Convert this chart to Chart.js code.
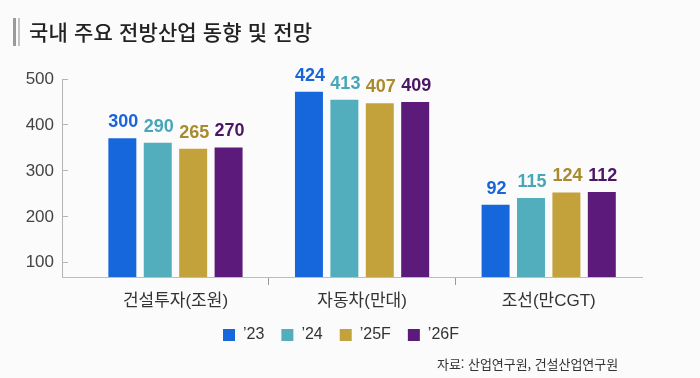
<!DOCTYPE html>
<html lang="ko">
<head>
<meta charset="utf-8">
<script src="https://cdn.jsdelivr.net/npm/chart.js@4"></script>
<style>
  html, body { margin: 0; padding: 0; background: #fbfbfb; }
  #wrap { position: relative; width: 700px; height: 378px; overflow: hidden; }
  #title {
    position: absolute; left: 29px; top: 16px;
    font-family: 'Noto Sans CJK KR', sans-serif; font-weight: 500;
    font-size: 21px; color: #222; letter-spacing: 0.15px; white-space: nowrap;
  }
  #bar1 { position: absolute; left: 13px; top: 18px; width: 3px; height: 28px; background: #9a9a9a; }
  #bar2 { position: absolute; left: 18px; top: 18px; width: 2px; height: 28px; background: #c4c4c4; }
  #source {
    position: absolute; left: 437px; top: 354px;
    font-family: 'Noto Sans CJK KR', sans-serif; font-size: 13px;
    color: #333; letter-spacing: -0.05px; white-space: nowrap;
  }
  canvas { position: absolute; left: 0; top: 0; }
</style>
</head>
<body>
<div id="wrap">
  <canvas id="chart" width="700" height="378"></canvas>
  <div id="bar1"></div><div id="bar2"></div>
  <div id="title">국내 주요 전방산업 동향 및 전망</div>
  <div id="source">자료: 산업연구원, 건설산업연구원</div>
</div>
<script>
// categories and series
const categories = ['건설투자(조원)', '자동차(만대)', '조선(만CGT)'];
const seriesNames = ['’23', '’24', '’25F', '’26F'];

// values printed above the bars
const values23 = [300, 424, 92];
const values24 = [290, 413, 115];
const values25F = [265, 407, 124];
const values26F = [270, 409, 112];

// bar heights as drawn against the left axis
const bars23 = [371, 472, 226];
const bars24 = [361, 455, 241];
const bars25F = [348, 447, 253];
const bars26F = [351, 450, 254];

const yTicks = [100, 200, 300, 400, 500];

const barColors = ['#1767dc', '#52adbd', '#c4a23b', '#5c1b7a'];
const labelColors = ['#1a64da', '#47a7b9', '#a98a2c', '#4b1664'];

const latin = "'Liberation Sans', 'Noto Sans CJK KR', sans-serif";

const allBars = [bars23, bars24, bars25F, bars26F];
const allValues = [values23, values24, values25F, values26F];

const datasets = seriesNames.map((name, s) => ({
    label: name,
    data: allBars[s].map((v, i) => ({ x: i, y: v })),
    backgroundColor: barColors[s],
    borderWidth: 0,
    categoryPercentage: 1.518,
    barPercentage: 0.79
}));

const valueLabels = {
    id: 'valueLabels',
    afterDatasetsDraw(chart) {
        const ctx = chart.ctx;
        ctx.save();
        ctx.font = 'bold 18px ' + latin;
        ctx.textAlign = 'center';
        ctx.textBaseline = 'bottom';
        chart.data.datasets.forEach((ds, s) => {
            const meta = chart.getDatasetMeta(s);
            ctx.fillStyle = labelColors[s];
            meta.data.forEach((bar, i) => {
                ctx.fillText(allValues[s][i], bar.x + 1, bar.y - 7);
            });
        });
        ctx.restore();
    }
};

// legend sits a little right of the padded box centre
const legendShift = {
    id: 'legendShift',
    afterLayout(chart) {
        if (chart.legend) {
            chart.legend.left += 10;
            chart.legend.right += 10;
        }
    }
};

const ctx = document.getElementById('chart').getContext('2d');
new Chart(ctx, {
    type: 'bar',
    data: { datasets },
    options: {
        responsive: false,
        animation: false,
        devicePixelRatio: 1,
        layout: { padding: { left: 20, right: 58, top: 79, bottom: 25 } },
        plugins: {
            title: { display: false },
            tooltip: { enabled: false },
            legend: {
                position: 'bottom',
                labels: {
                    boxWidth: 12,
                    boxHeight: 12,
                    padding: 17,
                    color: '#333',
                    font: { size: 16, family: latin }
                }
            }
        },
        scales: {
            x: {
                type: 'linear',
                min: -0.608,
                max: 2.5,
                offset: false,
                afterBuildTicks(scale) {
                    scale.ticks = [0, 0.5, 1, 1.5, 2].map(v => ({ value: v }));
                },
                afterFit(scale) { scale.height = 33; },
                border: { color: '#bdbdbd', width: 1 },
                grid: {
                    offset: false,
                    drawOnChartArea: false,
                    tickLength: 8,
                    tickColor: c => (c.tick && c.tick.value % 1 !== 0) ? '#999' : 'rgba(0,0,0,0)'
                },
                ticks: {
                    padding: 6,
                    maxRotation: 0,
                    autoSkip: false,
                    color: '#333',
                    font: { size: 17, family: latin },
                    callback: v => (v % 1 === 0 ? categories[v] : '')
                }
            },
            y: {
                min: 69,
                max: 500,
                afterBuildTicks(scale) {
                    scale.ticks = yTicks.map(v => ({ value: v }));
                },
                afterFit(scale) { scale.width = 42; },
                border: { color: '#b5b5b5', width: 1 },
                grid: {
                    drawOnChartArea: false,
                    tickLength: -6,
                    tickColor: '#b5b5b5'
                },
                ticks: {
                    padding: 14,
                    color: '#444',
                    font: { size: 17, family: latin }
                }
            }
        }
    },
    plugins: [valueLabels, legendShift]
});
</script>
</body>
</html>
